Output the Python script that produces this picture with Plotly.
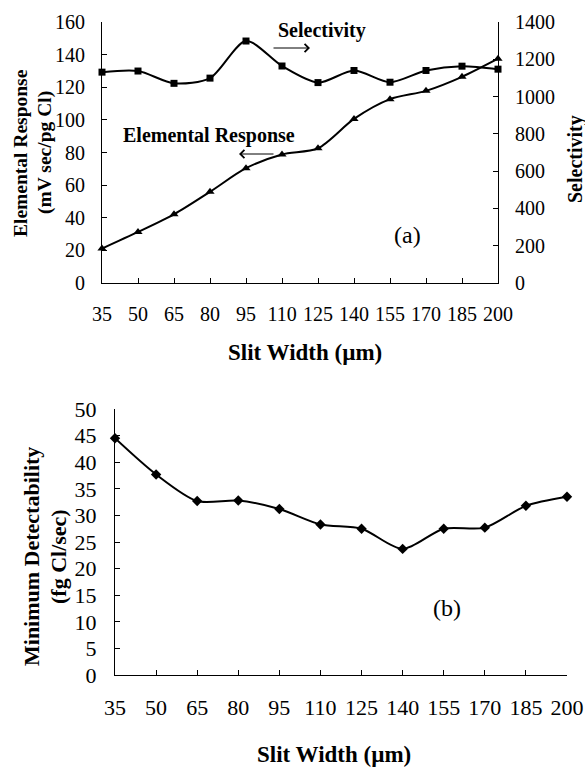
import plotly.graph_objects as go

W, H = 585, 769
slit = [35, 50, 65, 80, 95, 110, 125, 140, 155, 170, 185, 200]
elemental = [21.1, 31.3, 42.1, 55.9, 70.4, 78.8, 82.6, 100.6, 112.7, 117.8, 126.4, 137.5]
selectivity = [1131, 1137, 1071, 1099, 1298, 1164, 1075, 1140, 1077, 1140, 1163, 1147]
min_detect = [44.5, 37.7, 32.7, 32.8, 31.2, 28.3, 27.5, 23.7, 27.5, 27.7, 31.8, 33.5]
left_ticks_a = [0, 20, 40, 60, 80, 100, 120, 140, 160]
right_ticks_a = [0, 200, 400, 600, 800, 1000, 1200, 1400]
left_ticks_b = [0, 5, 10, 15, 20, 25, 30, 35, 40, 45, 50]

FONT = "Liberation Serif"

def px(x):
    return x / W

def py(y):
    return 1 - y / H

fig = go.Figure()
line = dict(color="black", width=2, shape="spline", smoothing=0.8)
fig.add_trace(go.Scatter(x=slit, y=elemental, mode="lines+markers", line=line,
                         marker=dict(symbol="triangle-up", size=8, color="black"),
                         xaxis="x", yaxis="y", cliponaxis=False))
fig.add_trace(go.Scatter(x=slit, y=selectivity, mode="lines+markers", line=line,
                         marker=dict(symbol="square", size=7, color="black"),
                         xaxis="x", yaxis="y2", cliponaxis=False))
fig.add_trace(go.Scatter(x=slit, y=min_detect, mode="lines+markers", line=line,
                         marker=dict(symbol="diamond", size=8, color="black"),
                         xaxis="x2", yaxis="y3", cliponaxis=False))

def axis_style(size):
    return dict(showgrid=False, zeroline=False, showline=True, linecolor="black", linewidth=1,
                ticks="inside", ticklen=5, tickcolor="black", automargin=False,
                tickfont=dict(family=FONT, size=size, color="black"))

fig.update_layout(
    template="none",
    width=W, height=H, showlegend=False,
    margin=dict(l=0, r=0, t=0, b=0, pad=0),
    paper_bgcolor="white", plot_bgcolor="white",
    xaxis=dict(domain=[px(102), px(498)], anchor="y", range=[35, 200],
               tickvals=slit, ticklabelstandoff=13, **axis_style(20)),
    yaxis=dict(domain=[py(283), py(22)], anchor="x", range=[0, 160],
               tickvals=left_ticks_a, ticklabelstandoff=12, **axis_style(20)),
    yaxis2=dict(overlaying="y", side="right", anchor="x", range=[0, 1400],
                tickvals=right_ticks_a, ticklabelstandoff=12, **axis_style(20)),
    xaxis2=dict(domain=[px(115), px(567)], anchor="y3", range=[35, 200],
                tickvals=slit, ticklabelstandoff=13, **axis_style(22)),
    yaxis3=dict(domain=[py(675), py(409)], anchor="x2", range=[0, 50],
                tickvals=left_ticks_b, ticklabelstandoff=13, **axis_style(22)),
)

ann = []
def text(x, y, t, size=17, angle=0, b=True):
    ann.append(dict(x=px(x), y=py(y), xref="paper", yref="paper", text=(f"<b>{t}</b>" if b else t),
                    showarrow=False, textangle=angle, xanchor="center", yanchor="middle",
                    font=dict(family=FONT, size=size, color="black")))

text(20, 153, "Elemental Response", 19.5, -90)
text(45, 153, "(mV sec/pg Cl)", 19.5, -90)
text(575, 159, "Selectivity", 20, -90)
text(305, 352, "Slit Width (µm)", 23)
text(322, 30, "Selectivity", 20)
text(209, 135, "Elemental Response", 20)
text(407, 235, "(a)", 24, b=False)
text(31, 557, "Minimum Detectability", 22, -90)
text(58, 557, "(fg Cl/sec)", 22, -90)
text(447, 608, "(b)", 24, b=False)
text(334, 754, "Slit Width (µm)", 23)

def arrow(x_tip, y, dx):
    ann.append(dict(x=px(x_tip), y=py(y), xref="paper", yref="paper", text="",
                    showarrow=True, ax=dx, ay=0, arrowhead=4, arrowsize=1.6,
                    arrowwidth=1, arrowcolor="black"))

arrow(310, 48, -38)
arrow(239, 154, 36)
fig.update_layout(annotations=ann)

fig.write_html("out.html", config={"displayModeBar": False},
               post_script="document.body.style.margin='0';document.body.style.overflow='hidden';")
